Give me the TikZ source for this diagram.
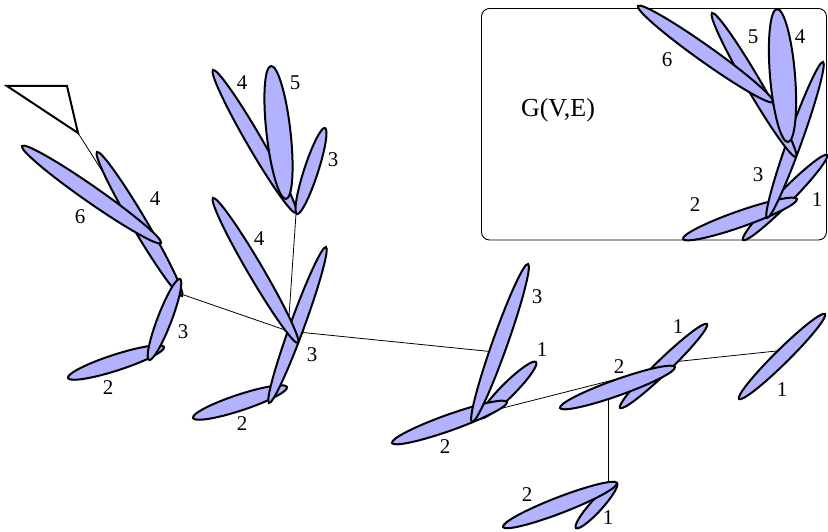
\documentclass[tikz,border=0pt]{standalone}
\usepackage{fontspec}
\setmainfont{Liberation Serif}
\usetikzlibrary{calc}
\definecolor{petalfill}{RGB}{178,178,255}
% \petal{x1}{y1}{x2}{y2}{half width}: an ellipse spanning tip (x1,y1) to tip (x2,y2)
\newcommand\petal[5]{%
  \pgfmathsetmacro\petalang{atan2(#4-#2,#3-#1)}%
  \pgfmathsetmacro\petalrad{veclen(#3-#1,#4-#2)/2}%
  \draw[petalline, shift={({(#1+#3)/2},{(#2+#4)/2})}, rotate=-\petalang]
    (0,0) ellipse[x radius=\petalrad pt, y radius=#5pt];%
}
\begin{document}
\begin{tikzpicture}[x=1pt,y=-1pt,
  petalline/.style={draw=black, fill=petalfill, line width=2pt},
  link/.style={draw=black, line width=0.8pt},
  lbl/.style={font=\fontsize{21}{21}\selectfont, inner sep=0pt},
  title/.style={font=\fontsize{26}{26}\selectfont, inner sep=0pt}]
\useasboundingbox (0,0) rectangle (828,532);

% inset frame
\draw[line width=0.9pt, rounded corners=8pt] (481.5,8.5) rectangle (826.5,240);
\node[title] (gve) at (558,110) {G(V,E)};

% attachment points of the connectors
\coordinate (triA) at (7,86);
\coordinate (triB) at (67,86);
\coordinate (triC) at (78,133);
\coordinate (hidA) at (178,290);
\coordinate (rootA) at (181,294);
\coordinate (rootB) at (288,331);
\coordinate (rootC) at (296,214);
\coordinate (inD) at (495,352);
\coordinate (outD) at (495,410);
\coordinate (inE) at (625,377);
\coordinate (downE) at (608,391);
\coordinate (topF) at (608,487);
\coordinate (outE) at (663,363);
\coordinate (inG) at (786,350);

% connectors (under the petals)
\draw[link] (triC) -- (hidA);
\draw[link] (rootA) -- (rootB);
\draw[link] (rootC) -- (rootB);
\draw[link] (rootB) -- (inD);
\draw[link] (outD) -- (inE);
\draw[link] (downE) -- (topF);
\draw[link] (outE) -- (inG);

% root marker
\draw[line width=2pt, line join=miter] (triA) -- (triB) -- (triC) -- cycle;

% cluster A
\petal{68}{378}{164}{347}{8}
\petal{97}{152}{182}{296}{7.5}
\petal{22}{146}{161}{243}{8}
\petal{180}{279}{149}{360}{7}
% cluster B
\petal{193}{418}{287}{387}{8}
\petal{326}{247}{269}{403}{7}
\petal{213}{198}{298}{343}{7.5}
% cluster C
\petal{213}{70}{296}{213}{7.5}
\petal{325}{128}{297}{214}{7}
\petal{271}{66}{286}{199}{12}
% cluster D
\petal{536}{362}{480}{418}{7}
\petal{392}{443}{507}{402}{8}
\petal{528}{264}{472}{422}{7.5}
% cluster E
\petal{707}{324}{620}{408}{7}
\petal{560}{408}{675}{367}{8}
% cluster F
\petal{576}{528}{617}{483}{6}
\petal{503}{527}{617}{483}{8}
% cluster G
\petal{825}{314}{739}{399}{7}
% inset graph
\petal{827}{155}{743}{240}{7}
\petal{683}{239}{797}{199}{8}
\petal{823}{62}{767}{218}{7}
\petal{712}{13}{796}{157}{7.5}
\petal{638}{6}{773}{102}{8}
\petal{777}{9}{788}{142}{12.5}

% labels
\node[lbl] (lA6) at (80,217) {6};
\node[lbl] (lA4) at (155,199) {4};
\node[lbl] (lA3) at (183,332) {3};
\node[lbl] (lA2) at (108,388) {2};
\node[lbl] (lB4) at (259,239) {4};
\node[lbl] (lB3) at (312,355) {3};
\node[lbl] (lB2) at (242,424) {2};
\node[lbl] (lC4) at (242,83) {4};
\node[lbl] (lC5) at (295,83) {5};
\node[lbl] (lC3) at (333,160) {3};
\node[lbl] (lD3) at (537,297) {3};
\node[lbl] (lD1) at (542,350) {1};
\node[lbl] (lD2) at (445,447) {2};
\node[lbl] (lE1) at (678,327) {1};
\node[lbl] (lE2) at (619,367) {2};
\node[lbl] (lF2) at (527,495) {2};
\node[lbl] (lF1) at (608,518) {1};
\node[lbl] (lG1) at (782,390) {1};
\node[lbl] (lI6) at (667,60) {6};
\node[lbl] (lI5) at (753,37) {5};
\node[lbl] (lI4) at (800,37) {4};
\node[lbl] (lI3) at (758,175) {3};
\node[lbl] (lI2) at (695,205) {2};
\node[lbl] (lI1) at (817,200) {1};
\end{tikzpicture}
\end{document}
